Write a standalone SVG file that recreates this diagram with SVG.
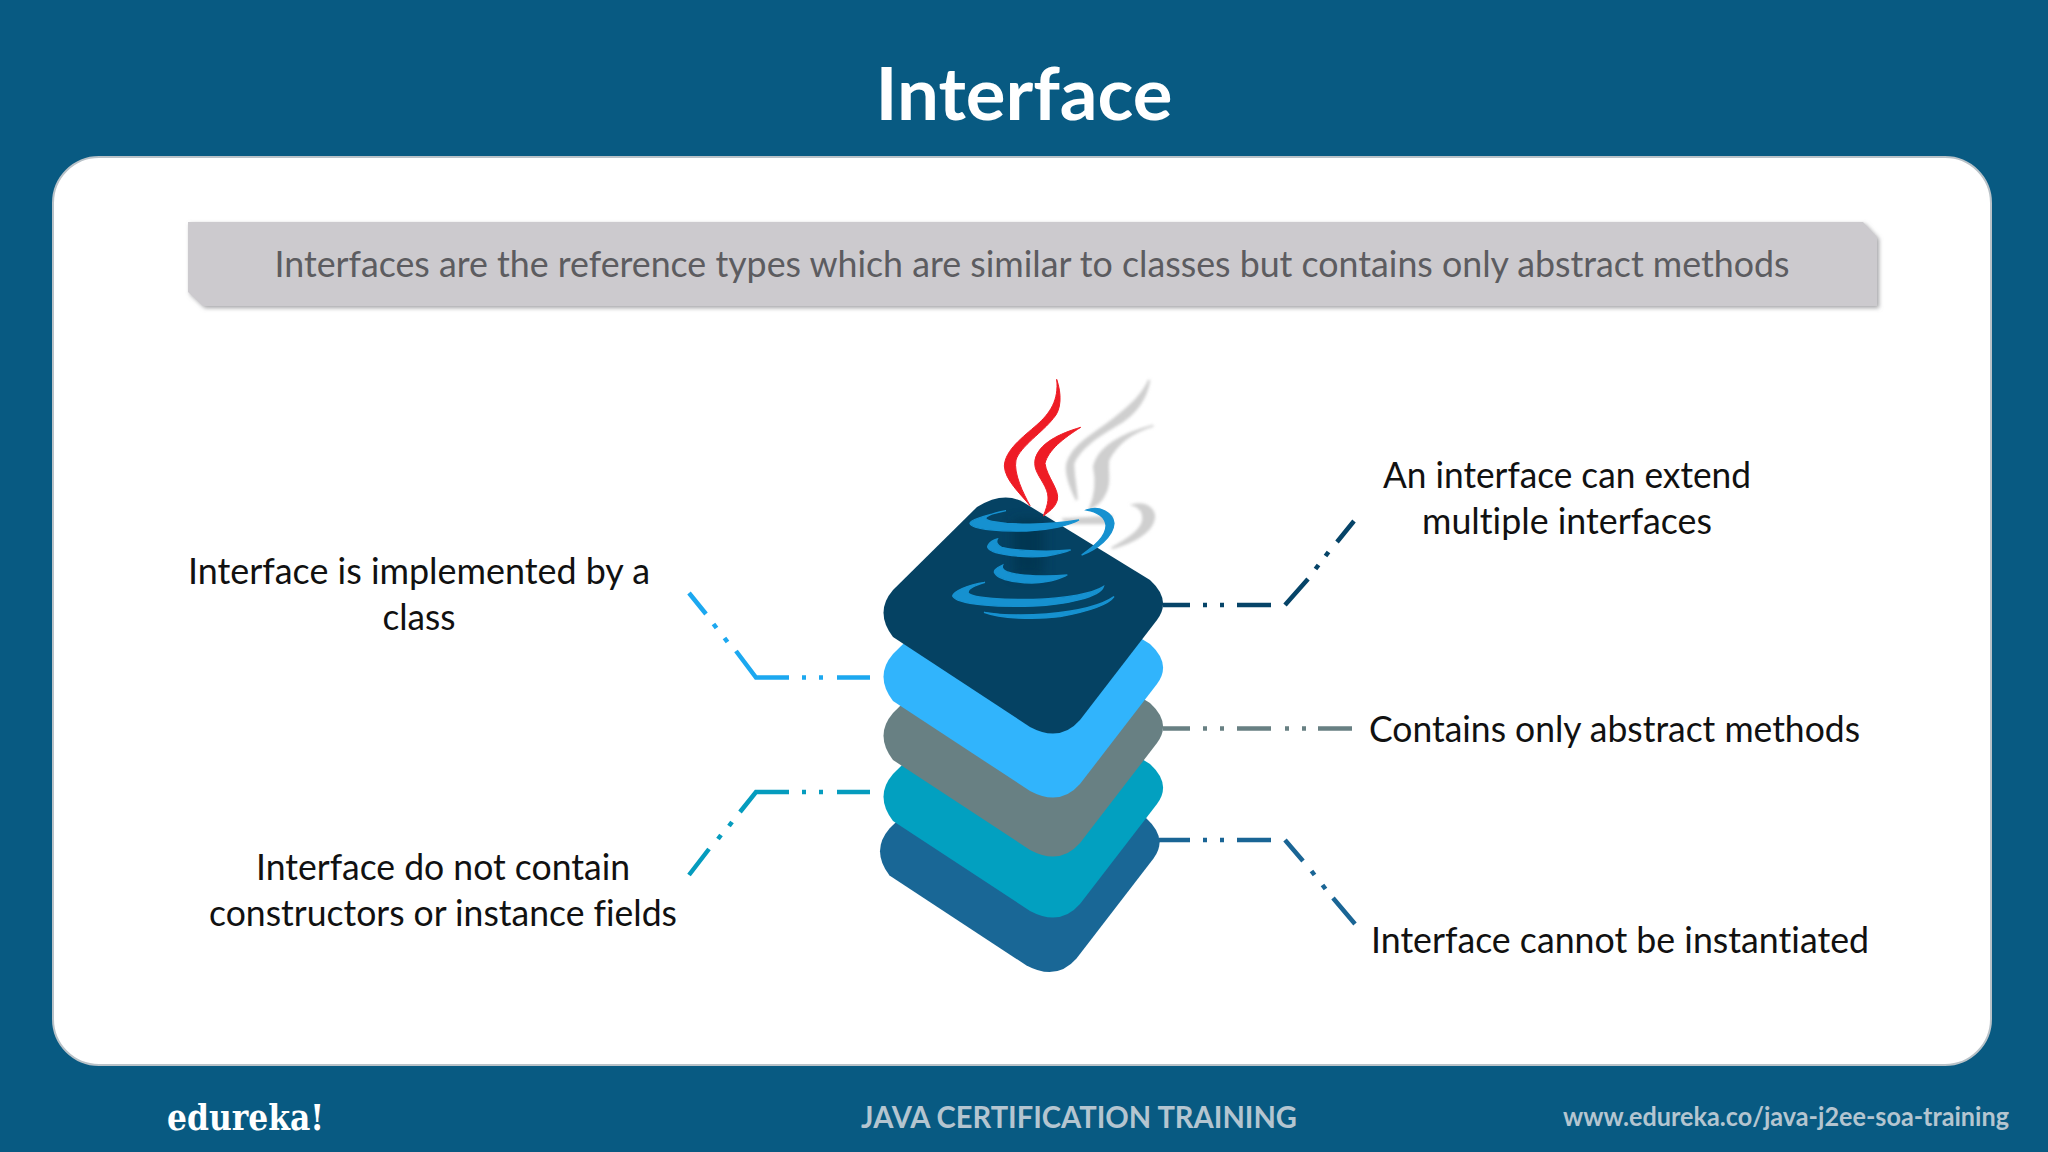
<svg xmlns="http://www.w3.org/2000/svg" width="2048" height="1152" viewBox="0 0 2048 1152">
<defs>
<path id="layer" d="M893,590 L977,507 Q1003,491 1023,502 L1150,580 Q1172,600 1157,620 L1080,720 Q1060,743 1030,727 L893,637 Q874,612 893,590 Z"/>
<filter id="soft" x="-20%" y="-20%" width="140%" height="140%"><feGaussianBlur stdDeviation="4"/></filter>
<filter id="shade" x="-50%" y="-50%" width="200%" height="200%"><feGaussianBlur stdDeviation="18"/></filter>
<filter id="bshadow" x="-2%" y="-10%" width="104%" height="125%"><feDropShadow dx="2" dy="2" stdDeviation="2" flood-color="#8d8d90" flood-opacity="0.8"/></filter>
</defs>
<style>
text{font-family:"Lato","Liberation Sans",sans-serif;font-variant-ligatures:none}
.lbl{font-size:36px;fill:#111;text-anchor:middle}
.c{fill:none;stroke-width:4.5}
</style>
<rect width="2048" height="1152" fill="#085a82"/>
<text x="1024" y="120" text-anchor="middle" font-size="72" font-weight="700" fill="#fff" textLength="297" lengthAdjust="spacingAndGlyphs">Interface</text>
<rect x="53" y="157" width="1938" height="908" rx="46" fill="#fff" stroke="#b9c2c8" stroke-width="2"/>
<g id="banner">
<path d="M188,222 H1863 L1877,237 V306 H203 L188,292 Z" fill="#cccace" filter="url(#bshadow)"/>
<text x="1032" y="277" text-anchor="middle" font-size="36" fill="#5c5c60" textLength="1515" lengthAdjust="spacingAndGlyphs">Interfaces are the reference types which are similar to classes but contains only abstract methods</text>
</g>
<g id="connectors">
<path class="c" stroke="#1ca8f0" d="M689,593L706,614M713.500,624L716.500,628M724.500,638L727.500,642M736,651L756,677.500H789M802,677.500H806M819,677.500H823M837,677.500H870"/>
<path class="c" stroke="#059cbe" d="M689,875L709,849M718,839L721,835M729,826L732,822M740,812L756,792H789M802,792H806M819,792H823M837,792H870"/>
<path class="c" stroke="#064468" d="M1163,605H1190M1203,605H1207M1220,605H1224M1237,605H1271M1285,605L1308,579M1315.500,569L1318.500,565M1325.500,556L1328.500,552M1337,542L1354,521"/>
<path class="c" stroke="#688083" d="M1163,728.500H1190M1203,728.500H1207M1220,728.500H1224M1237,728.500H1271M1285,728.500H1289M1302,728.500H1306M1318,728.500H1352"/>
<path class="c" stroke="#1a6595" d="M1159,840H1190M1203,840H1207M1220,840H1224M1237,840H1271M1285,840L1303,861M1311.500,871L1314.500,875M1322.500,885L1325.500,889M1333,898L1355,924"/>
</g>
<g id="stack">
<use href="#layer" transform="translate(-3.500,238.500)" fill="#196796"/>
<use href="#layer" transform="translate(0,184)" fill="#02a0c0"/>
<use href="#layer" transform="translate(0,123)" fill="#688083"/>
<use href="#layer" transform="translate(0,64)" fill="#31b4fc"/>
<use href="#layer" fill="#054263"/>
</g>
<g id="java-logo" transform="translate(860,360) scale(.33333)">
<g fill="#cfcfcf" stroke="#cfcfcf" stroke-width="6" filter="url(#soft)">
<path d="M868,60 C860,110 830,160 770,195 C720,225 660,260 640,310 C640,350 650,390 650,420 C630,380 615,340 622,310 C640,250 710,220 770,170 C820,130 850,100 868,60Z"/>
<path d="M880,197 C820,215 770,250 745,300 C740,340 755,370 730,410 C720,430 700,440 690,445 C710,400 710,360 702,320 C715,260 790,220 880,197Z"/>
<path d="M820,435 C860,425 885,450 882,475 C875,520 810,550 755,565 C800,540 850,510 850,475 C850,450 835,440 820,435Z"/>
<path d="M610,478 L755,470 L740,490 L620,490Z"/>
</g>
<rect x="460" y="480" width="90" height="170" fill="#03304b" filter="url(#shade)" opacity=".7"/>
<g fill="#ee1c25" stroke="#ee1c25" stroke-width="3">
<path d="M590,58 C605,100 605,150 580,175 C550,215 480,260 468,300 C460,340 490,400 510,437 C480,400 435,360 433,318 C435,270 490,230 530,195 C570,160 597,120 590,58Z"/>
<path d="M662,202 C610,235 565,270 555,310 C560,350 600,390 592,420 C585,445 565,455 550,468 C565,430 570,410 555,380 C540,350 520,330 525,300 C535,250 600,220 662,202Z"/>
</g>
<g fill="#1691d0" stroke="#1691d0" stroke-width="4">
<path d="M438,452 C380,465 330,480 330,490 C335,510 430,515 500,513 C570,510 630,495 657,480 C600,490 520,495 440,490 C390,485 370,480 380,470 C395,460 420,455 438,452Z"/>
<path d="M680,450 C720,435 760,460 762,490 C760,530 710,570 665,585 C700,560 740,530 738,495 C735,470 710,455 680,450Z"/>
<path d="M412,537 C385,545 380,560 385,565 C400,585 500,595 560,588 C590,583 620,575 632,570 C580,575 480,575 425,562 C410,555 408,545 412,537Z"/>
<path d="M428,615 C405,625 400,635 405,640 C420,665 510,675 560,665 C590,660 610,650 622,645 C570,650 480,650 440,635 C428,630 425,622 428,615Z"/>
<path d="M375,667 C320,675 280,695 278,708 C290,735 420,742 520,738 C620,735 720,710 730,680 C700,700 620,715 520,718 C440,720 340,715 325,700 C320,685 350,675 375,667Z"/>
<path d="M372,757 C420,775 520,780 600,770 C680,755 745,735 762,710 C720,740 640,755 560,762 C490,767 420,765 372,757Z"/>
</g>
</g>
<g id="label-class">
<text class="lbl" x="419" y="584" textLength="462" lengthAdjust="spacingAndGlyphs">Interface is implemented by a</text>
<text class="lbl" x="419" y="630" textLength="73" lengthAdjust="spacingAndGlyphs">class</text>
</g>
<g id="label-constructors">
<text class="lbl" x="443" y="880" textLength="374" lengthAdjust="spacingAndGlyphs">Interface do not contain</text>
<text class="lbl" x="443" y="926" textLength="468" lengthAdjust="spacingAndGlyphs">constructors or instance fields</text>
</g>
<g id="label-extend">
<text class="lbl" x="1567" y="488" textLength="368" lengthAdjust="spacingAndGlyphs">An interface can extend</text>
<text class="lbl" x="1567" y="534" textLength="290" lengthAdjust="spacingAndGlyphs">multiple interfaces</text>
</g>
<g id="label-abstract">
<text class="lbl" x="1614.500" y="742" textLength="491" lengthAdjust="spacingAndGlyphs">Contains only abstract methods</text>
</g>
<g id="label-instantiated">
<text class="lbl" x="1620" y="953" textLength="498" lengthAdjust="spacingAndGlyphs">Interface cannot be instantiated</text>
</g>
<g id="footer">
<text x="167" y="1130" font-size="35" font-weight="700" fill="#fff" style="font-family:'DejaVu Serif','Liberation Serif',serif" textLength="157" lengthAdjust="spacingAndGlyphs">edureka!</text>
<text x="1079" y="1128" text-anchor="middle" font-size="30" font-weight="700" fill="#b4c5d0" textLength="436" lengthAdjust="spacingAndGlyphs">JAVA CERTIFICATION TRAINING</text>
<text x="1786" y="1126" text-anchor="middle" font-size="26" font-weight="700" fill="#b4c5d0" textLength="446" lengthAdjust="spacingAndGlyphs">www.edureka.co/java-j2ee-soa-training</text>
</g>
</svg>
